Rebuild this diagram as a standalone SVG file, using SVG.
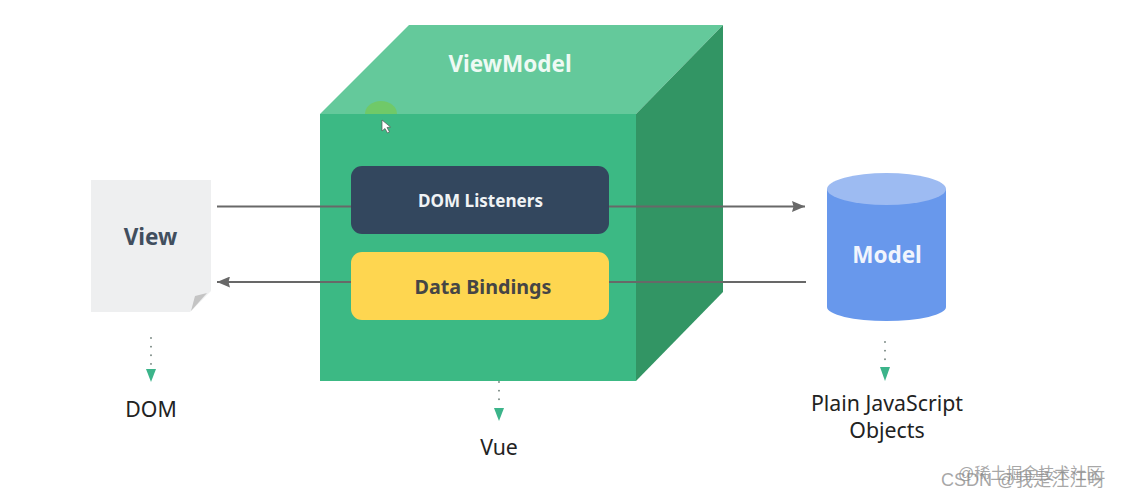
<svg xmlns="http://www.w3.org/2000/svg" width="1134" height="500" viewBox="0 0 1134 500">
<style>
.b{font-family:"Noto Sans","Open Sans",sans-serif;font-weight:700;text-anchor:middle}
.l{font-family:"Noto Sans","Open Sans",sans-serif;font-size:21.300px;fill:#222;text-anchor:middle}
.c{stroke:#686868;stroke-width:2.200;fill:none}
.d{stroke:#71817b;stroke-width:1.800;stroke-linecap:round;stroke-dasharray:.1 8.500;fill:none}
.w{font-family:"Liberation Sans","Noto Sans CJK SC",sans-serif;fill:#8a8a8a;fill-opacity:.75}
</style>
<defs>
<marker id="gh" markerUnits="userSpaceOnUse" markerWidth="14" markerHeight="11" refX="13" refY="5.500" orient="auto"><path d="M0 0L13 5.500L0 11L1.500 5.500Z" fill="#686868"/></marker>
</defs>
<rect width="1134" height="500" fill="#fff"/>
<g id="viewmodel">
<path d="M320 114L409 25H723L636 114Z" fill="#64c99b"/>
<path d="M636 114L723 25V292L636 381Z" fill="#329564"/>
<rect x="320" y="114" width="316" height="267" fill="#3cb984"/>
<path d="M365 114a16 13 0 0 1 32 0Z" fill="#72c95f" fill-opacity=".85"/>
<path d="M382 120V131L385 128.500L387.500 133L389.500 132L387 127.500L390.500 127Z" fill="#fff" stroke="#555" stroke-width=".7"/>
<text x="510" y="72" class="b" font-size="22.500" fill="#eefaf4">ViewModel</text>
</g>
<g id="dom-listeners">
<rect x="351" y="166" width="258" height="68" rx="11" fill="#33475e"/>
<text x="480.500" y="207" class="b" font-size="17.100" fill="#f0f3f5">DOM Listeners</text>
</g>
<g id="data-bindings">
<rect x="351" y="252" width="258" height="68" rx="11" fill="#fed650"/>
<text x="483" y="294" class="b" font-size="19.700" fill="#454545">Data Bindings</text>
</g>
<g id="view">
<path d="M91 180H211V291L190 312H91Z" fill="#eeeff0"/>
<path d="M191 311L195 296L207 293Z" fill="#c4c4c4"/>
<text x="150.500" y="245" class="b" font-size="22.500" fill="#414e5e">View</text>
</g>
<g id="model">
<path d="M827 189V307A59.500 14 0 0 0 946 307V189Z" fill="#6898ec"/>
<ellipse cx="886.500" cy="189" rx="59.500" ry="16" fill="#9dbbf2"/>
<text x="887" y="263" class="b" font-size="22.500" fill="#f1f5fd">Model</text>
</g>
<g id="connectors">
<path class="c" d="M217 206.500H351M609 206.500H805" marker-end="url(#gh)"/>
<path class="c" d="M806 282H609M351 282H217" marker-end="url(#gh)"/>
<path class="d" d="M151 338V368"/>
<path d="M146 369H156L151 382Z" fill="#3cb48a"/>
<path class="d" d="M499 382V406"/>
<path d="M494 408H504L499 421Z" fill="#3cb48a"/>
<path class="d" d="M885 342V367"/>
<path d="M880 367H890L885 381Z" fill="#3cb48a"/>
</g>
<g id="labels">
<text x="151" y="417" class="l">DOM</text>
<text x="499" y="455" class="l">Vue</text>
<text x="887" y="411" class="l">Plain JavaScript</text>
<text x="887" y="438" class="l">Objects</text>
</g>
<g id="watermark">
<text x="958" y="479" class="w" font-size="16">@稀土掘金技术社区</text>
<text x="941" y="486" class="w" font-size="18">CSDN @我是汪汪呀</text>
</g>
</svg>
